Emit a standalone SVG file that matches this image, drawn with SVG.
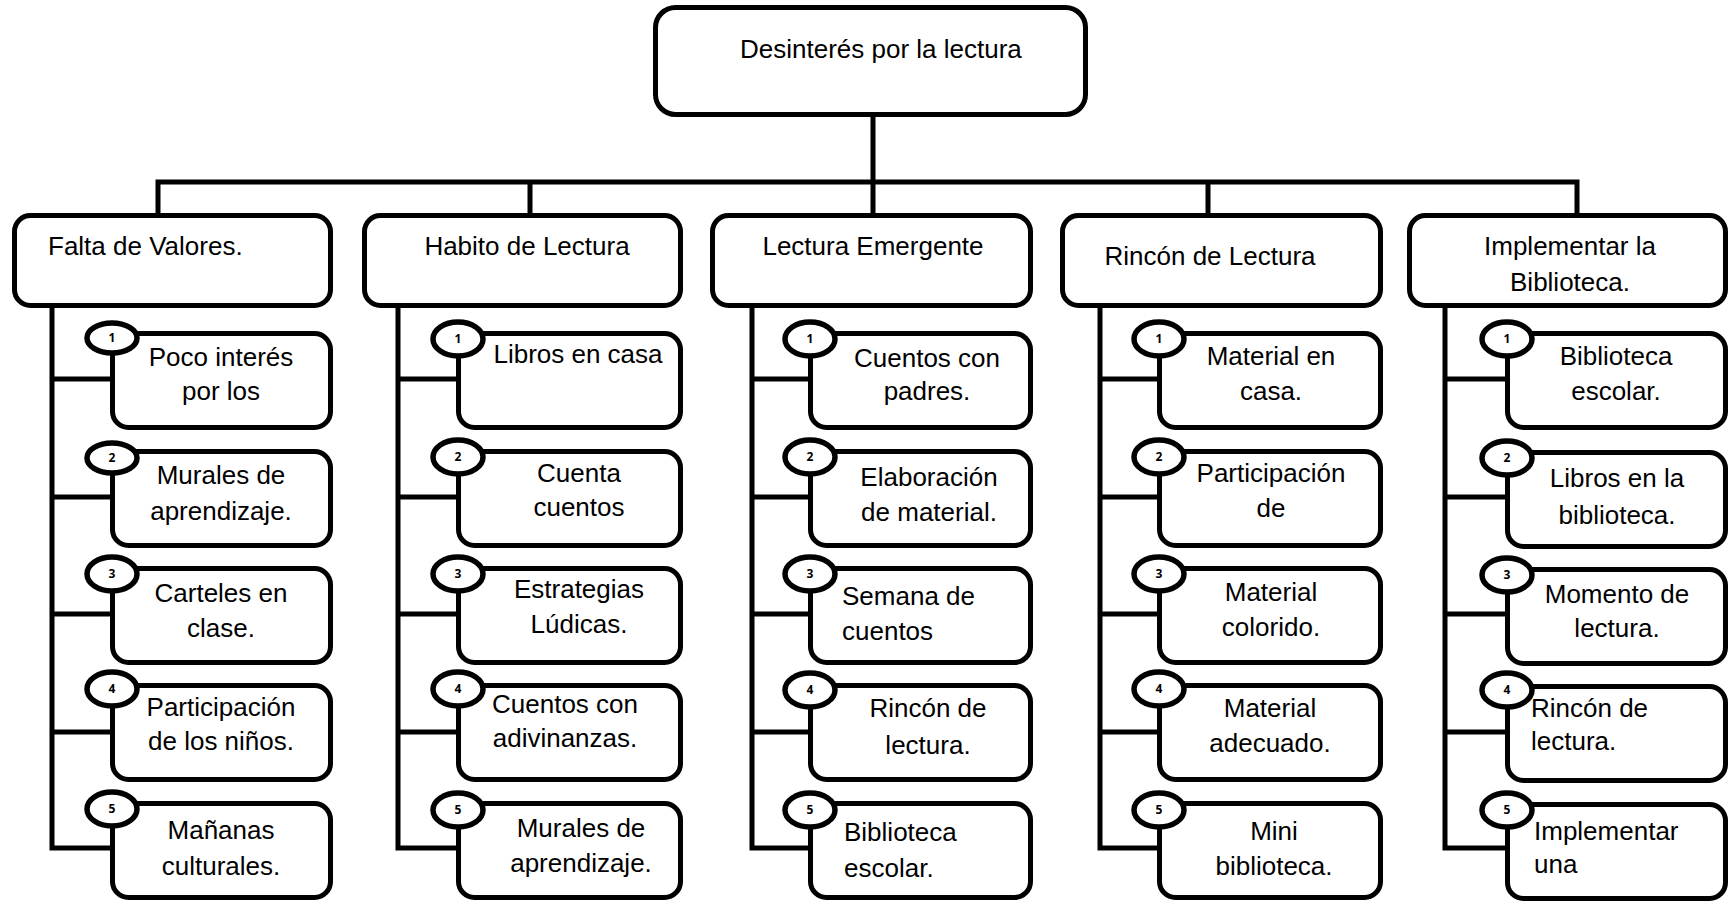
<svg xmlns="http://www.w3.org/2000/svg" width="1730" height="904" viewBox="0 0 1730 904">
<style>
.box{fill:#fff;stroke:#000;stroke-width:5}
.num{fill:#fff;stroke:#000;stroke-width:5.5}
.ln{fill:none;stroke:#000;stroke-width:5;stroke-linecap:square}
.t{font-family:"Liberation Sans",Arial,sans-serif;font-size:26px;fill:#000}
.m{text-anchor:middle}
.n{font-family:"Open Sans","Liberation Sans",sans-serif;font-size:12px;font-weight:bold;fill:#000;text-anchor:middle}
</style>
<rect width="1730" height="904" fill="#fff"/>
<g id="connectors">
<path class="ln" d="M873 116V182M158 182H1577M158 182V213M530 182V213M873 182V213M1208 182V213M1577 182V213"/>
<path class="ln" d="M52 308V848H110M52 379H110M52 497H110M52 614H110M52 732H110"/>
<path class="ln" d="M398 308V848H456M398 379H456M398 497H456M398 614H456M398 732H456"/>
<path class="ln" d="M752 308V848H808M752 379H808M752 497H808M752 614H808M752 732H808"/>
<path class="ln" d="M1100 308V848H1157M1100 379H1157M1100 497H1157M1100 614H1157M1100 732H1157"/>
<path class="ln" d="M1445 308V848H1505M1445 379H1505M1445 497H1505M1445 614H1505M1445 732H1505"/>
</g>
<g id="root">
<rect class="box" x="655.5" y="7.5" width="430" height="107" rx="20"/>
<text class="t" x="740" y="58">Desinterés por la lectura</text>
</g>
<g id="h1"><rect class="box" x="14.5" y="215.5" width="316" height="90" rx="16"/><text class="t" x="48" y="255">Falta de Valores.</text></g>
<g id="h2"><rect class="box" x="364.5" y="215.5" width="316" height="90" rx="16"/><text class="t m" x="527" y="255">Habito de Lectura</text></g>
<g id="h3"><rect class="box" x="712.5" y="215.5" width="318" height="90" rx="16"/><text class="t m" x="873" y="255">Lectura Emergente</text></g>
<g id="h4"><rect class="box" x="1062.5" y="215.5" width="318" height="90" rx="16"/><text class="t m" x="1210" y="265">Rincón de Lectura</text></g>
<g id="h5"><rect class="box" x="1409.5" y="215.5" width="316" height="90" rx="16"/><text class="t m" x="1570" y="255">Implementar la</text><text class="t m" x="1570" y="291">Biblioteca.</text></g>

<g id="c1-1"><rect class="box" x="112.5" y="333.5" width="218" height="94" rx="16"/><ellipse class="num" cx="112" cy="338" rx="25" ry="15"/><text class="n" x="112" y="342">1</text><text class="t m" x="221" y="366">Poco interés</text><text class="t m" x="221" y="400">por los</text></g>
<g id="c1-2"><rect class="box" x="112.5" y="451.5" width="218" height="94" rx="16"/><ellipse class="num" cx="112" cy="458" rx="25" ry="15"/><text class="n" x="112" y="462">2</text><text class="t m" x="221" y="484">Murales de</text><text class="t m" x="221" y="520">aprendizaje.</text></g>
<g id="c1-3"><rect class="box" x="112.5" y="568.5" width="218" height="94" rx="16"/><ellipse class="num" cx="112" cy="574" rx="25" ry="17"/><text class="n" x="112" y="578">3</text><text class="t m" x="221" y="602">Carteles en</text><text class="t m" x="221" y="637">clase.</text></g>
<g id="c1-4"><rect class="box" x="112.5" y="685.5" width="218" height="94" rx="16"/><ellipse class="num" cx="112" cy="689" rx="25" ry="17"/><text class="n" x="112" y="693">4</text><text class="t m" x="221" y="716">Participación</text><text class="t m" x="221" y="750">de los niños.</text></g>
<g id="c1-5"><rect class="box" x="112.5" y="803.5" width="218" height="94" rx="16"/><ellipse class="num" cx="112" cy="809" rx="25" ry="17"/><text class="n" x="112" y="813">5</text><text class="t m" x="221" y="839">Mañanas</text><text class="t m" x="221" y="875">culturales.</text></g>

<g id="c2-1"><rect class="box" x="458.5" y="333.5" width="222" height="94" rx="16"/><ellipse class="num" cx="458" cy="339" rx="25" ry="17"/><text class="n" x="458" y="343">1</text><text class="t m" x="578" y="363">Libros en casa</text></g>
<g id="c2-2"><rect class="box" x="458.5" y="451.5" width="222" height="94" rx="16"/><ellipse class="num" cx="458" cy="457" rx="25" ry="17"/><text class="n" x="458" y="461">2</text><text class="t m" x="579" y="482">Cuenta</text><text class="t m" x="579" y="516">cuentos</text></g>
<g id="c2-3"><rect class="box" x="458.5" y="568.5" width="222" height="94" rx="16"/><ellipse class="num" cx="458" cy="574" rx="25" ry="17"/><text class="n" x="458" y="578">3</text><text class="t m" x="579" y="598">Estrategias</text><text class="t m" x="579" y="633">Lúdicas.</text></g>
<g id="c2-4"><rect class="box" x="458.5" y="685.5" width="222" height="94" rx="16"/><ellipse class="num" cx="458" cy="689" rx="25" ry="17"/><text class="n" x="458" y="693">4</text><text class="t m" x="565" y="713">Cuentos con</text><text class="t m" x="565" y="747">adivinanzas.</text></g>
<g id="c2-5"><rect class="box" x="458.5" y="803.5" width="222" height="94" rx="16"/><ellipse class="num" cx="458" cy="810" rx="25" ry="17"/><text class="n" x="458" y="814">5</text><text class="t m" x="581" y="837">Murales de</text><text class="t m" x="581" y="872">aprendizaje.</text></g>

<g id="c3-1"><rect class="box" x="810.5" y="333.5" width="220" height="94" rx="16"/><ellipse class="num" cx="810" cy="339" rx="25" ry="17"/><text class="n" x="810" y="343">1</text><text class="t m" x="927" y="367">Cuentos con</text><text class="t m" x="927" y="400">padres.</text></g>
<g id="c3-2"><rect class="box" x="810.5" y="451.5" width="220" height="94" rx="16"/><ellipse class="num" cx="810" cy="457" rx="25" ry="17"/><text class="n" x="810" y="461">2</text><text class="t m" x="929" y="486">Elaboración</text><text class="t m" x="929" y="521">de material.</text></g>
<g id="c3-3"><rect class="box" x="810.5" y="568.5" width="220" height="94" rx="16"/><ellipse class="num" cx="810" cy="574" rx="25" ry="17"/><text class="n" x="810" y="578">3</text><text class="t" x="842" y="605">Semana de</text><text class="t" x="842" y="640">cuentos</text></g>
<g id="c3-4"><rect class="box" x="810.5" y="685.5" width="220" height="94" rx="16"/><ellipse class="num" cx="810" cy="690" rx="25" ry="17"/><text class="n" x="810" y="694">4</text><text class="t m" x="928" y="717">Rincón de</text><text class="t m" x="928" y="754">lectura.</text></g>
<g id="c3-5"><rect class="box" x="810.5" y="803.5" width="220" height="94" rx="16"/><ellipse class="num" cx="810" cy="810" rx="25" ry="17"/><text class="n" x="810" y="814">5</text><text class="t" x="844" y="841">Biblioteca</text><text class="t" x="844" y="877">escolar.</text></g>

<g id="c4-1"><rect class="box" x="1159.5" y="333.5" width="221" height="94" rx="16"/><ellipse class="num" cx="1159" cy="339" rx="25" ry="17"/><text class="n" x="1159" y="343">1</text><text class="t m" x="1271" y="365">Material en</text><text class="t m" x="1271" y="400">casa.</text></g>
<g id="c4-2"><rect class="box" x="1159.5" y="451.5" width="221" height="94" rx="16"/><ellipse class="num" cx="1159" cy="457" rx="25" ry="17"/><text class="n" x="1159" y="461">2</text><text class="t m" x="1271" y="482">Participación</text><text class="t m" x="1271" y="517">de</text></g>
<g id="c4-3"><rect class="box" x="1159.5" y="568.5" width="221" height="94" rx="16"/><ellipse class="num" cx="1159" cy="574" rx="25" ry="17"/><text class="n" x="1159" y="578">3</text><text class="t m" x="1271" y="601">Material</text><text class="t m" x="1271" y="636">colorido.</text></g>
<g id="c4-4"><rect class="box" x="1159.5" y="685.5" width="221" height="94" rx="16"/><ellipse class="num" cx="1159" cy="689" rx="25" ry="17"/><text class="n" x="1159" y="693">4</text><text class="t m" x="1270" y="717">Material</text><text class="t m" x="1270" y="752">adecuado.</text></g>
<g id="c4-5"><rect class="box" x="1159.5" y="803.5" width="221" height="94" rx="16"/><ellipse class="num" cx="1159" cy="810" rx="25" ry="17"/><text class="n" x="1159" y="814">5</text><text class="t m" x="1274" y="840">Mini</text><text class="t m" x="1274" y="875">biblioteca.</text></g>

<g id="c5-1"><rect class="box" x="1507.5" y="333.5" width="218" height="94" rx="16"/><ellipse class="num" cx="1507" cy="339" rx="25" ry="17"/><text class="n" x="1507" y="343">1</text><text class="t m" x="1616" y="365">Biblioteca</text><text class="t m" x="1616" y="400">escolar.</text></g>
<g id="c5-2"><rect class="box" x="1507.5" y="452.5" width="218" height="94" rx="16"/><ellipse class="num" cx="1507" cy="458" rx="25" ry="17"/><text class="n" x="1507" y="462">2</text><text class="t m" x="1617" y="487">Libros en la</text><text class="t m" x="1617" y="524">biblioteca.</text></g>
<g id="c5-3"><rect class="box" x="1507.5" y="569.5" width="218" height="94" rx="16"/><ellipse class="num" cx="1507" cy="575" rx="25" ry="17"/><text class="n" x="1507" y="579">3</text><text class="t m" x="1617" y="603">Momento de</text><text class="t m" x="1617" y="637">lectura.</text></g>
<g id="c5-4"><rect class="box" x="1507.5" y="686.5" width="218" height="94" rx="16"/><ellipse class="num" cx="1507" cy="690" rx="25" ry="17"/><text class="n" x="1507" y="694">4</text><text class="t" x="1531" y="717">Rincón de</text><text class="t" x="1531" y="750">lectura.</text></g>
<g id="c5-5"><rect class="box" x="1507.5" y="804.5" width="218" height="94" rx="16"/><ellipse class="num" cx="1507" cy="810" rx="25" ry="17"/><text class="n" x="1507" y="814">5</text><text class="t" x="1534" y="840">Implementar</text><text class="t" x="1534" y="873">una</text></g>
</svg>
